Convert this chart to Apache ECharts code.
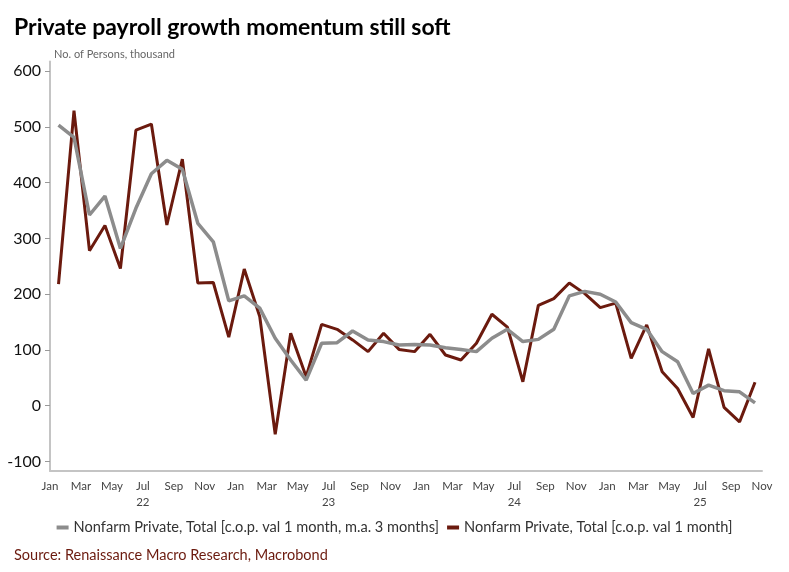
<!DOCTYPE html>
<html>
<head>
<meta charset="utf-8">
<script src="https://cdn.jsdelivr.net/npm/echarts@6/dist/echarts.min.js"></script>
<style>
  html, body { margin: 0; padding: 0; background: #fff; }
  #chart { width: 789px; height: 572px; }
</style>
</head>
<body>
<div id="chart"></div>
<script>
// ---- Data (private payrolls, thousand persons), Jan 2022 .. Oct 2025 ----
const monthNames = ['Jan','Feb','Mar','Apr','May','Jun','Jul','Aug','Sep','Oct','Nov','Dec'];
const startYear = 2022;
const privateMonthly = [
  218, 529, 278, 323, 246, 494, 505, 324, 442, 220, 221, 123,
  245, 160, -51, 130, 52, 146, 137, 118, 97, 130, 101, 97,
  128, 91, 82, 112, 164, 141, 43, 180, 192, 220, 201, 176,
  184, 85, 145, 61, 31, -21, 102, -3, -29, 42
];
const privateMA3 = [
  503, 481, 342, 376, 282, 354, 416, 440, 424, 327, 294, 188,
  197, 175, 121, 82, 46, 112, 113, 134, 118, 115, 109, 110,
  109, 104, 101, 97, 121, 137, 115, 119, 137, 197, 205, 200,
  186, 149, 137, 97, 79, 22, 37, 27, 25, 5
];
const yTickValues = [-100, 0, 100, 200, 300, 400, 500, 600];
// x labels: every second month from Jan 2022 to Nov 2025 (months since Jan 2022)
const xLabelMonthOffsets = [0,2,4,6,8,10,12,14,16,18,20,22,24,26,28,30,32,34,36,38,40,42,44,46];

const seriesNameMA = 'Nonfarm Private, Total [c.o.p. val 1 month, m.a. 3 months]';
const seriesNameM = 'Nonfarm Private, Total [c.o.p. val 1 month]';

// monthly observations sit mid-month on a month-based axis
const MID_MONTH = 0.55;
const mData = privateMonthly.map((v, i) => [i + MID_MONTH, v]);
const maData = privateMA3.map((v, i) => [i + MID_MONTH, v]);

const chart = echarts.init(document.getElementById('chart'), null, { renderer: 'canvas' });
const FONT = 'Lato';

chart.setOption({
  backgroundColor: '#ffffff',
  animation: false,
  textStyle: { fontFamily: FONT },
  title: [
    {
      text: 'Private payroll growth momentum still soft',
      left: 9, top: 11,
      textStyle: { fontFamily: FONT, fontSize: 23, fontWeight: 'bold', color: '#000' }
    },
    {
      text: 'No. of Persons, thousand',
      left: 49, top: 44,
      textStyle: { fontFamily: FONT, fontSize: 11, fontWeight: 'normal', color: '#666' }
    },
    {
      text: 'Source: Renaissance Macro Research, Macrobond',
      left: 9, top: 543,
      textStyle: { fontFamily: FONT, fontSize: 14.5, fontWeight: 'normal', color: '#6b1a0e' }
    }
  ],
  legend: {
    data: [
      { name: seriesNameMA, itemStyle: { color: '#8c8c8c' } },
      { name: seriesNameM, itemStyle: { color: '#6b1a0e' } }
    ],
    icon: 'rect',
    itemWidth: 12,
    itemHeight: 4,
    itemGap: 8,
    left: 'center',
    top: 515,
    textStyle: { fontFamily: FONT, fontSize: 14.6, color: '#333' }
  },
  grid: { left: 50, right: 27, top: 61.6, bottom: 101, containLabel: false },
  xAxis: {
    type: 'value',
    min: 0,
    max: 46,
    axisLine: { show: true, onZero: false, lineStyle: { color: '#c4c4c4', width: 2 } },
    axisTick: { show: false },
    splitLine: { show: false },
    axisLabel: {
      customValues: xLabelMonthOffsets,
      color: '#444',
      fontFamily: FONT,
      fontSize: 11.5,
      lineHeight: 16,
      margin: 7,
      formatter: function (val) {
        const m = Math.round(val);
        const mi = m % 12;
        const yr = startYear + Math.floor(m / 12);
        if (mi === 6) return monthNames[mi] + '\n' + String(yr).slice(2);
        return monthNames[mi];
      }
    }
  },
  yAxis: {
    type: 'value',
    min: -117,
    max: 617,
    axisLine: { show: true, lineStyle: { color: '#c4c4c4', width: 2 } },
    axisTick: { show: true, customValues: yTickValues, length: 5, lineStyle: { color: '#999' } },
    splitLine: { show: false },
    axisLabel: {
      customValues: yTickValues,
      color: '#111',
      fontFamily: FONT,
      fontSize: 16,
      margin: 9
    }
  },
  series: [
    {
      name: seriesNameM,
      type: 'line',
      data: mData,
      showSymbol: false,
      symbol: 'none',
      lineStyle: { color: '#6b1a0e', width: 3 },
      itemStyle: { color: '#6b1a0e' },
      z: 2
    },
    {
      name: seriesNameMA,
      type: 'line',
      data: maData,
      showSymbol: false,
      symbol: 'none',
      lineStyle: { color: '#8c8c8c', width: 3.5 },
      itemStyle: { color: '#8c8c8c' },
      z: 3
    }
  ]
});
</script>
</body>
</html>
